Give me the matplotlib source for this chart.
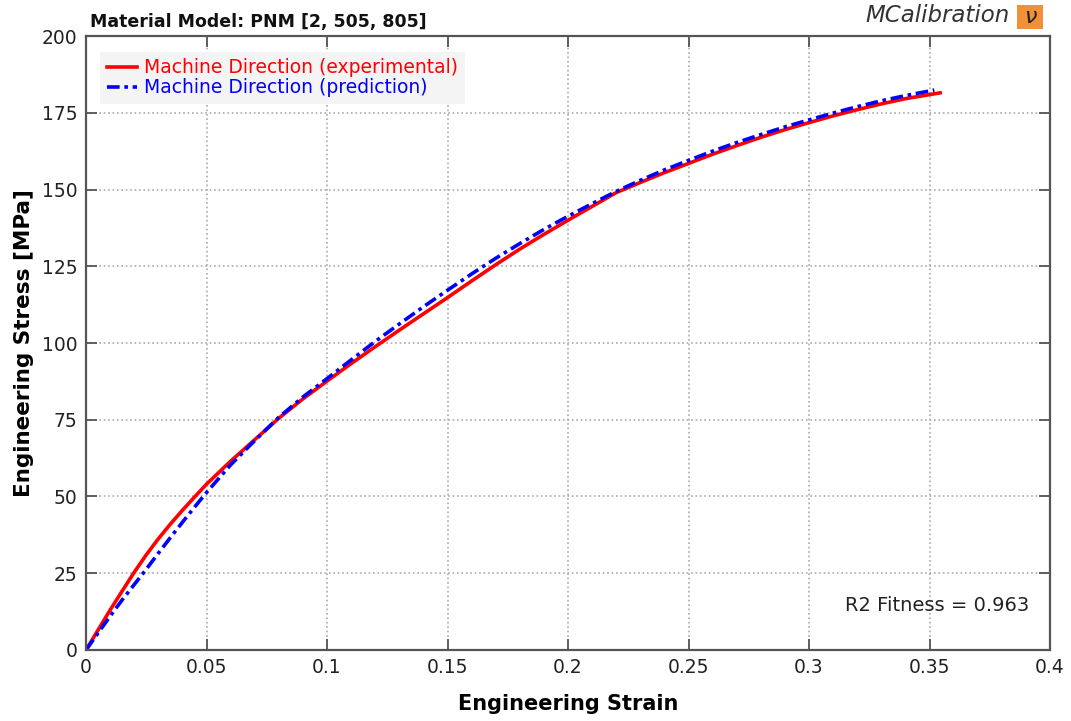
import matplotlib.pyplot as plt
from matplotlib.patches import Rectangle

# Experimental curve (red)
exp_strain = [0, 0.005, 0.01, 0.015, 0.02, 0.025, 0.03, 0.035, 0.04, 0.045, 0.05, 0.06, 0.07,
              0.08, 0.09, 0.10, 0.11, 0.12, 0.13, 0.14, 0.15, 0.16, 0.17, 0.18, 0.19, 0.20,
              0.21, 0.22, 0.23, 0.24, 0.25, 0.26, 0.27, 0.28, 0.29, 0.30, 0.31, 0.32, 0.33,
              0.34, 0.3544]
exp_stress = [0, 6.5, 13, 19.2, 25.3, 31, 36.2, 41, 45.5, 49.8, 54, 61.5, 68.5,
              75.5, 81.8, 87.6, 93.3, 98.8, 104.2, 109.5, 114.8, 120.2, 125.5, 130.6, 135.4, 140,
              144.5, 149, 152.3, 155.5, 158.5, 161.5, 164.3, 167, 169.5, 171.8, 174, 176, 177.9,
              179.6, 181.5]

# Model prediction (blue)
pred_strain = [0, 0.005, 0.01, 0.015, 0.02, 0.025, 0.03, 0.035, 0.04, 0.045, 0.05, 0.06, 0.07,
               0.08, 0.09, 0.10, 0.11, 0.12, 0.13, 0.14, 0.15, 0.16, 0.17, 0.18, 0.19, 0.20,
               0.21, 0.22, 0.23, 0.24, 0.25, 0.26, 0.27, 0.28, 0.29, 0.30, 0.31, 0.32, 0.33,
               0.34, 0.352]
pred_stress = [0, 5.5, 11, 16.3, 21.3, 26.3, 31.5, 36.6, 41.6, 46.5, 51.3, 60.3, 68.2,
               75.8, 82.4, 88.4, 94.5, 100.5, 106.2, 111.8, 117.2, 122.5, 127.6, 132.4, 137, 141.3,
               145.4, 149.4, 153, 156.4, 159.5, 162.5, 165.3, 167.9, 170.4, 172.7, 174.9, 177, 178.9,
               180.6, 182.4]

x_ticks = [0, 0.05, 0.1, 0.15, 0.2, 0.25, 0.3, 0.35, 0.4]
x_ticklabels = ['0', '0.05', '0.1', '0.15', '0.2', '0.25', '0.3', '0.35', '0.4']
y_ticks = [0, 25, 50, 75, 100, 125, 150, 175, 200]

plt.rcParams['font.family'] = ['DejaVu Sans']

fig = plt.figure(figsize=(10.71, 7.21), dpi=100)
ax = fig.add_axes([0.0803, 0.0985, 0.9001, 0.8515])

ax.plot(exp_strain, exp_stress, color='#ff0000', lw=2.6, label='Machine Direction (experimental)')
ax.plot(pred_strain, pred_stress, color='#0000ff', lw=2.6, dashes=(3.5, 1.3, 1, 1.3),
        label='Machine Direction (prediction)')

ax.set_xlim(0, 0.4)
ax.set_ylim(0, 200)
ax.set_xticks(x_ticks)
ax.set_xticklabels(x_ticklabels)
ax.set_yticks(y_ticks)
ax.grid(True, linestyle=':', color='#aaaaaa', lw=1.2)
ax.tick_params(direction='in', length=8, width=1.3, color='#555555', labelsize=13.5,
               top=True, right=True, labelcolor='#222222', pad=6)
for s in ax.spines.values():
    s.set_color('#555555')
    s.set_linewidth(1.6)

ax.set_xlabel('Engineering Strain', fontsize=15, fontweight='bold', labelpad=12)
ax.set_ylabel('Engineering Stress [MPa]', fontsize=15.5, fontweight='bold', labelpad=6)

leg = ax.legend(loc='upper left', bbox_to_anchor=(0.005, 0.99), fontsize=13.5, frameon=True,
                handlelength=1.6, handletextpad=0.4, borderpad=0.35, labelspacing=0.05,
                fancybox=False)
leg.get_frame().set_facecolor('#f4f4f4')
leg.get_frame().set_edgecolor('none')
leg.get_frame().set_alpha(1)
leg.get_texts()[0].set_color('#ff0000')
leg.get_texts()[1].set_color('#0000ff')

ax.text(0.978, 0.072, 'R2 Fitness = 0.963', transform=ax.transAxes, ha='right', va='center',
        fontsize=14, color='#222222')

fig.text(0.084, 0.969, 'Material Model: PNM [2, 505, 805]', fontsize=12.5, fontweight='bold',
         ha='left', va='center', color='#111111')
fig.text(0.943, 0.978, 'MCalibration', fontsize=16.5, style='italic', ha='right', va='center',
         color='#333333')
fig.patches.append(Rectangle((0.950, 0.960), 0.024, 0.033, transform=fig.transFigure,
                             facecolor='#f0913a', edgecolor='none'))
fig.text(0.962, 0.977, 'ν', fontsize=16, style='italic', ha='center', va='center',
         color='#222222')

fig.savefig('out.png', dpi=100)
